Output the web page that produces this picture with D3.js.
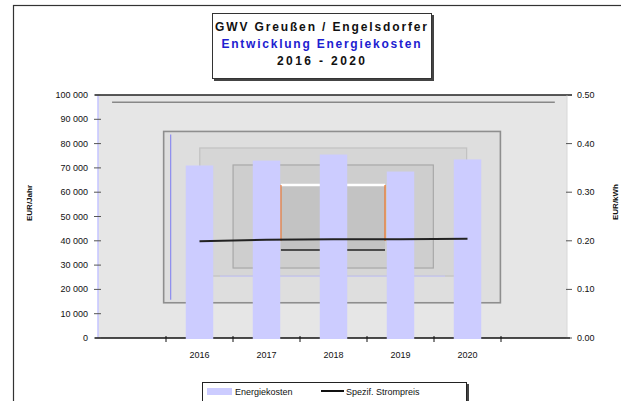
<!DOCTYPE html>
<html><head><meta charset="utf-8">
<script src="https://cdn.jsdelivr.net/npm/d3@7"></script>
<style>body{margin:0;background:#fff}svg{display:block}text{font-family:"Liberation Sans",Arial,sans-serif}</style>
</head><body><svg id="c" width="621" height="401"></svg>
<script>
// ---- data ----
const categories = ["2016", "2017", "2018", "2019", "2020"];
const energiekosten = [71000, 73000, 75500, 68500, 73500];
const strompreis = [0.199, 0.202, 0.203, 0.203, 0.204];
const leftTicks = [0, 10000, 20000, 30000, 40000, 50000, 60000, 70000, 80000, 90000, 100000];
const rightTicks = [0, 0.1, 0.2, 0.3, 0.4, 0.5];
const titleLines = ["GWV Greußen / Engelsdorfer", "Entwicklung Energiekosten", "2016 - 2020"];
const legendLabels = ["Energiekosten", "Spezif. Strompreis"];
const axisTitles = ["EUR/Jahr", "EUR/kWh"];

// ---- layout ----
const svg = d3.select("#c");
const P = {x0: 98, x1: 567, y0: 95, y1: 338};
const W = P.x1 - P.x0, H = P.y1 - P.y0;

const slots = ["_pre", ...categories, "_post"];
const x = d3.scaleBand().domain(slots).range([P.x0 + 1, P.x1 + 1]).paddingInner(0).paddingOuter(0);
const y = d3.scaleLinear().domain([0, 100000]).range([P.y1, P.y0]);
const yR = d3.scaleLinear().domain([0, 0.5]).range([P.y1, P.y0]);

// outer frame
svg.append("rect").attr("x", 13.5).attr("y", 5.5).attr("width", 640).attr("height", 420)
  .attr("fill", "#fff").attr("stroke", "#333").attr("stroke-width", 1.2);

// plot background with nested (path-gradient-like) frames
const g = svg.append("g");
g.append("rect").attr("x", P.x0).attr("y", P.y0).attr("width", W).attr("height", H).attr("fill", "#e6e6e6");
g.append("line").attr("x1", P.x0 + W*0.03).attr("x2", P.x0 + W*0.974).attr("y1", P.y0 + H*0.03).attr("y2", P.y0 + H*0.03)
  .attr("stroke", "#888").attr("stroke-width", 1.5);
const frames = [
  {l: 0.140, r: 0.858, t: 0.150, b: 0.855, fill: "#dedede", stroke: "#8e8e8e", sw: 1.6},
  {l: 0.217, r: 0.786, t: 0.218, b: 0.745, fill: "#d6d6d6", stroke: "#c2c2c2", sw: 1.2},
  {l: 0.288, r: 0.715, t: 0.288, b: 0.712, fill: "#cecece", stroke: "#a8a8a8", sw: 1.2},
  {l: 0.390, r: 0.612, t: 0.370, b: 0.638, fill: "#c3c3c3", stroke: "none", sw: 0}
];
frames.forEach(f => {
  g.append("rect").attr("x", P.x0 + W*f.l).attr("y", P.y0 + H*f.t)
    .attr("width", W*(f.r - f.l)).attr("height", H*(f.b - f.t))
    .attr("fill", f.fill).attr("stroke", f.stroke).attr("stroke-width", f.sw);
});
const c = frames[3];
g.append("line").attr("x1", P.x0 + W*c.l).attr("x2", P.x0 + W*c.r).attr("y1", P.y0 + H*c.t).attr("y2", P.y0 + H*c.t)
  .attr("stroke", "#fff").attr("stroke-width", 2.5);
g.append("line").attr("x1", P.x0 + W*c.l).attr("x2", P.x0 + W*c.r).attr("y1", P.y0 + H*c.b).attr("y2", P.y0 + H*c.b)
  .attr("stroke", "#222").attr("stroke-width", 1.5);
g.append("line").attr("x1", P.x0 + W*0.26).attr("x2", P.x0 + W*0.74).attr("y1", P.y0 + H*0.745).attr("y2", P.y0 + H*0.745)
  .attr("stroke", "#c8c8f4").attr("stroke-width", 1.2);
[c.l, c.r].forEach(f => g.append("line").attr("x1", P.x0 + W*f).attr("x2", P.x0 + W*f)
  .attr("y1", P.y0 + H*c.t).attr("y2", P.y0 + H*0.6).attr("stroke", "#f07020").attr("stroke-width", 1.2));
g.append("line").attr("x1", P.x0 + W*frames[0].l + 7).attr("x2", P.x0 + W*frames[0].l + 7)
  .attr("y1", P.y0 + H*frames[0].t + 3).attr("y2", P.y0 + H*frames[0].b - 3).attr("stroke", "#8c8cf0").attr("stroke-width", 1.2);

// left axis line (light blue) and top border
svg.append("line").attr("x1", P.x0).attr("x2", P.x0).attr("y1", P.y0).attr("y2", P.y1).attr("stroke", "#c4c4ff").attr("stroke-width", 1.5);
svg.append("line").attr("x1", P.x0 - 3).attr("x2", P.x1 + 5).attr("y1", P.y0).attr("y2", P.y0).attr("stroke", "#222").attr("stroke-width", 1.5);
svg.append("line").attr("x1", P.x1).attr("x2", P.x1).attr("y1", P.y0).attr("y2", P.y1).attr("stroke", "#d8d8d8").attr("stroke-width", 1);

// bottom axis line
svg.append("line").attr("x1", P.x0 - 3).attr("x2", P.x1 + 3).attr("y1", P.y1).attr("y2", P.y1).attr("stroke", "#111").attr("stroke-width", 1.5);

// left ticks/labels
const fmtL = v => d3.format(",")(v).replace(/,/g, " ");
leftTicks.forEach(v => {
  svg.append("line").attr("x1", 94).attr("x2", 101).attr("y1", y(v)).attr("y2", y(v)).attr("stroke", "#555").attr("stroke-width", 1);
  svg.append("text").attr("x", 88).attr("y", y(v) + 3).attr("text-anchor", "end").attr("font-size", 9)
    .attr("fill", "#111").text(fmtL(v));
});
// right ticks/labels
rightTicks.forEach(v => {
  svg.append("line").attr("x1", P.x1 - 1).attr("x2", P.x1 + 5).attr("y1", yR(v)).attr("y2", yR(v)).attr("stroke", "#555").attr("stroke-width", 1);
  svg.append("text").attr("x", 577).attr("y", yR(v) + 3).attr("font-size", 9).attr("fill", "#111").text(d3.format(".2f")(v));
});

// x ticks at slot boundaries
const bounds = slots.slice(1).map(s => x(s));
bounds.forEach(b => svg.append("line").attr("x1", b).attr("x2", b).attr("y1", P.y1 - 2).attr("y2", P.y1 + 4).attr("stroke", "#111").attr("stroke-width", 1));

// bars
const bw = x.bandwidth() * 0.41;
svg.append("g").selectAll("rect").data(categories).join("rect")
  .attr("x", d => x(d) + x.bandwidth()/2 - bw/2)
  .attr("y", (d, i) => y(energiekosten[i]))
  .attr("width", bw)
  .attr("height", (d, i) => y(0) - y(energiekosten[i]) + 1)
  .attr("fill", "#ccccff");

// line
const line = d3.line().x((d, i) => x(categories[i]) + x.bandwidth()/2).y(d => yR(d));
svg.append("path").datum(strompreis).attr("d", line).attr("fill", "none").attr("stroke", "#222").attr("stroke-width", 2);

// category labels
categories.forEach(cat => svg.append("text").attr("x", x(cat) + x.bandwidth()/2).attr("y", 358)
  .attr("text-anchor", "middle").attr("font-size", 9).attr("fill", "#111").text(cat));

// axis titles
svg.append("text").attr("transform", "translate(32,203) rotate(-90)").attr("text-anchor", "middle")
  .attr("font-size", 8).attr("font-weight", "bold").attr("fill", "#111").text(axisTitles[0]);
svg.append("text").attr("transform", "translate(618,202) rotate(-90)").attr("text-anchor", "middle")
  .attr("font-size", 8).attr("font-weight", "bold").attr("fill", "#111").text(axisTitles[1]);

// title box
svg.append("rect").attr("x", 214).attr("y", 15).attr("width", 220).attr("height", 66).attr("fill", "#444");
svg.append("rect").attr("x", 212.5).attr("y", 13.5).attr("width", 219).attr("height", 65).attr("fill", "#fff").attr("stroke", "#333").attr("stroke-width", 1);
const tColors = ["#111", "#2020d0", "#111"];
const tWidths = [212, 199, 88];
titleLines.forEach((t, i) => svg.append("text").attr("x", 321).attr("y", 31 + i*17)
  .attr("text-anchor", "middle").attr("font-size", 12).attr("font-weight", "bold")
  .attr("fill", tColors[i]).attr("textLength", tWidths[i]).attr("lengthAdjust", "spacing").text(t));

// legend
svg.append("rect").attr("x", 204).attr("y", 384).attr("width", 265).attr("height", 30).attr("fill", "#444");
svg.append("rect").attr("x", 202.5).attr("y", 382.5).attr("width", 264).attr("height", 30).attr("fill", "#fff").attr("stroke", "#222").attr("stroke-width", 1);
svg.append("rect").attr("x", 207).attr("y", 388).attr("width", 25).attr("height", 7).attr("fill", "#ccccff");
svg.append("text").attr("x", 235).attr("y", 395).attr("font-size", 9).attr("fill", "#111").text(legendLabels[0]);
svg.append("line").attr("x1", 321).attr("x2", 344).attr("y1", 391).attr("y2", 391).attr("stroke", "#111").attr("stroke-width", 2);
svg.append("text").attr("x", 346).attr("y", 395).attr("font-size", 9).attr("fill", "#111").text(legendLabels[1]);
</script></body></html>
